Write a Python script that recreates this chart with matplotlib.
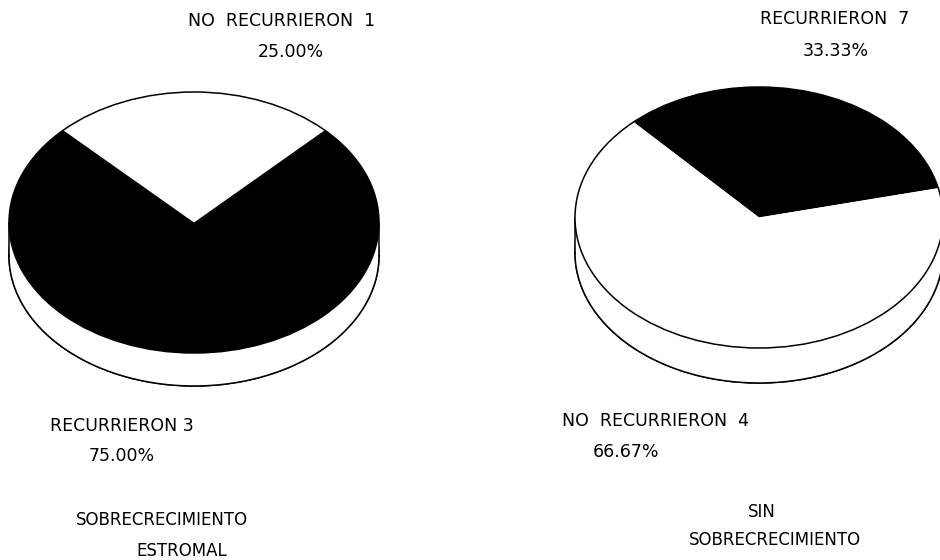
import numpy as np
import matplotlib
matplotlib.use("Agg")
import matplotlib.pyplot as plt
from matplotlib.patches import Wedge, Ellipse, Polygon
from matplotlib.transforms import Affine2D

# ---- data ----
left_labels = ["NO  RECURRIERON  1", "RECURRIERON 3"]
left_pcts = [25.00, 75.00]
left_colors = ["white", "black"]
left_title = ["SOBRECRECIMIENTO", "ESTROMAL"]

right_labels = ["RECURRIERON  7", "NO  RECURRIERON  4"]
right_pcts = [33.33, 66.67]
right_colors = ["black", "white"]
right_title = ["SIN", "SOBRECRECIMIENTO"]

W, H = 940, 560
fig = plt.figure(figsize=(9.4, 5.6), dpi=100)
ax = fig.add_axes([0, 0, 1, 1])
ax.set_xlim(0, W)
ax.set_ylim(H, 0)
ax.axis("off")

LW = 1.1


def pie3d(cx, cy, a, b, depth, pcts, colors, start):
    tr = Affine2D().scale(1, -b / a).translate(cx, cy) + ax.transData
    tr_bot = Affine2D().scale(1, -b / a).translate(cx, cy + depth) + ax.transData
    ax.add_patch(Ellipse((0, 0), 2 * a, 2 * a, transform=tr_bot,
                         facecolor="white", edgecolor="black", lw=LW, zorder=1))
    t = np.linspace(np.pi, 2 * np.pi, 200)
    xs = a * np.cos(t)
    ys = a * np.sin(t)
    pts_top = np.column_stack([cx + xs, cy - ys * b / a])
    pts_bot = np.column_stack([cx + xs, cy + depth - ys * b / a])
    band = np.vstack([pts_top, pts_bot[::-1]])
    ax.add_patch(Polygon(band, closed=True, facecolor="white",
                         edgecolor="none", zorder=2))
    ax.plot(pts_bot[:, 0], pts_bot[:, 1], color="black", lw=LW, zorder=3)
    ax.plot([cx - a, cx - a], [cy, cy + depth], color="black", lw=LW, zorder=3)
    ax.plot([cx + a, cx + a], [cy, cy + depth], color="black", lw=LW, zorder=3)
    ang = start
    for p, c in zip(pcts, colors):
        span = 360.0 * p / sum(pcts)
        ax.add_patch(Wedge((0, 0), a, ang, ang + span, transform=tr,
                           facecolor=c, edgecolor="none", zorder=4))
        ang += span
    ax.add_patch(Ellipse((0, 0), 2 * a, 2 * a, transform=tr,
                         facecolor="none", edgecolor="black", lw=LW, zorder=5))


pie3d(194, 222.5, 185, 130.5, 33, left_pcts, left_colors, 45)
pie3d(759, 217.5, 184, 130.5, 35, right_pcts, right_colors, 13)

kw = dict(fontsize=12.5, color="black", va="center", ha="center",
          family="DejaVu Sans")
kwt = dict(kw, fontsize=12)

ax.text(282, 21, left_labels[0], **kw)
ax.text(291, 52, f"{left_pcts[0]:.2f}%", **kw)
ax.text(122, 426, left_labels[1], **kw)
ax.text(122, 456, f"{left_pcts[1]:.2f}%", **kw)
ax.text(162, 520, left_title[0], **kwt)
ax.text(182, 551, left_title[1], **kwt)

ax.text(835, 19, right_labels[0], **kw)
ax.text(836, 51, f"{right_pcts[0]:.2f}%", **kw)
ax.text(655, 421, right_labels[1], **kw)
ax.text(626, 452, f"{right_pcts[1]:.2f}%", **kw)
ax.text(762, 512, right_title[0], **kwt)
ax.text(775, 540, right_title[1], **kwt)

fig.savefig("out.png", dpi=100, facecolor="white")
